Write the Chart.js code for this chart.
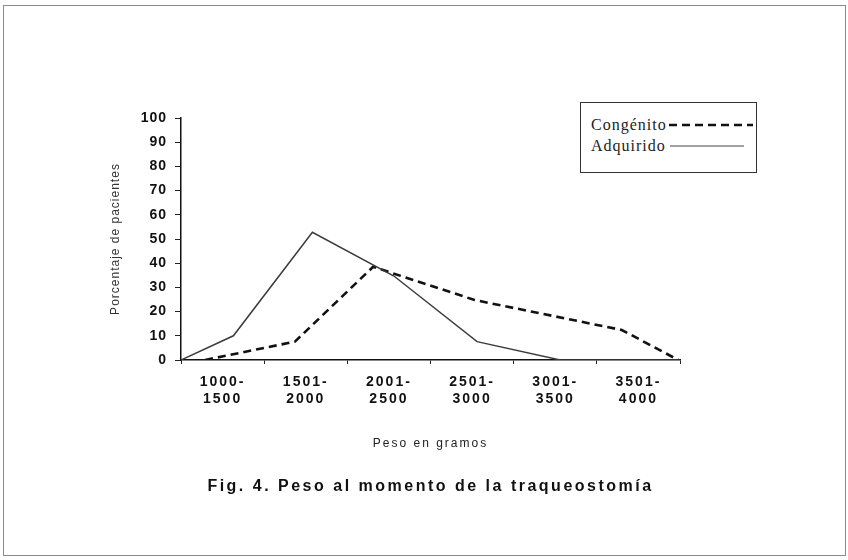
<!DOCTYPE html>
<html>
<head>
<meta charset="utf-8">
<script src="https://cdn.jsdelivr.net/npm/chart.js@4.4.1/dist/chart.umd.min.js"></script>
<style>
html,body{margin:0;padding:0;background:#fff;}
#wrap{position:relative;width:848px;height:560px;overflow:hidden;background:#fff;}
#frame{position:absolute;left:3px;top:5px;width:843px;height:551px;border:1px solid #8a8a8a;box-sizing:border-box;}
#c{position:absolute;left:0;top:0;}
#legend{position:absolute;left:580px;top:102px;width:177px;height:71px;border:1.5px solid #333;box-sizing:border-box;background:#fff;
  font-family:"Liberation Serif","Times New Roman",serif;font-size:16px;letter-spacing:1px;color:#222;}
.row{position:absolute;left:10px;white-space:nowrap;display:flex;align-items:center;height:20px;}
.row svg{margin-left:2px;}
</style>
</head>
<body>
<div id="wrap">
  <div id="frame"></div>
  <canvas id="c" width="848" height="560"></canvas>
  <div id="legend">
    <div class="row" id="r1" style="top:12px;"><span id="t1"></span><svg width="84" height="6"><line x1="0" y1="3" x2="84" y2="3" stroke="#111" stroke-width="2.4" stroke-dasharray="8,5"/></svg></div>
    <div class="row" id="r2" style="top:33px;"><span id="t2"></span><svg width="76" height="6"><line x1="2" y1="3" x2="76" y2="3" stroke="#444" stroke-width="1.2"/></svg></div>
  </div>
</div>
<script>
// ---- data ----
const categories = [['1000-','1500'],['1501-','2000'],['2001-','2500'],['2501-','3000'],['3001-','3500'],['3501-','4000']];
const seriesNames = ['Congénito','Adquirido'];
const adquiridoX = [0, 0.63, 1.58, 2.56, 3.56, 4.56, 6];
const adquiridoY = [0, 10, 52.8, 34.7, 7.6, 0, 0];
const congenitoX = [0.29, 1.37, 2.31, 3.53, 5.3, 5.98];
const congenitoY = [0, 7.6, 38.5, 24.8, 12.4, 0];
const yMin = 0, yMax = 100, yStep = 10;
const xTitle = 'Peso en gramos';
const yTitle = 'Porcentaje de pacientes';
const caption = 'Fig. 4. Peso al momento de la traqueostomía';

document.getElementById('t1').textContent = seriesNames[0];
document.getElementById('t2').textContent = seriesNames[1];

const toPts = (xs, ys) => xs.map((x, i) => ({x: x, y: ys[i]}));
const SANS = '"Liberation Sans", Arial, sans-serif';

const spacingPlugin = {
  id: 'spacing',
  beforeLayout(chart) {
    chart.boxes.forEach(b => {
      if (b._spWrapped) return;
      let sp = '0px';
      if (b.id === 'x') sp = '2px';
      else if (b.id === 'y') sp = '1px';
      else if (b === chart.titleBlock) sp = '2.5px';
      const orig = b.draw;
      b.draw = function(...args) {
        const ctx = chart.ctx;
        const prev = ctx.letterSpacing;
        ctx.letterSpacing = sp;
        orig.apply(this, args);
        ctx.letterSpacing = prev || '0px';
      };
      b._spWrapped = true;
    });
  }
};

new Chart(document.getElementById('c'), {
  type: 'line',
  data: {
    datasets: [
      {
        label: seriesNames[1],
        data: toPts(adquiridoX, adquiridoY),
        borderColor: '#3c3c3c',
        borderWidth: 1.5,
        pointRadius: 0,
        tension: 0,
        fill: false
      },
      {
        label: seriesNames[0],
        data: toPts(congenitoX, congenitoY),
        borderColor: '#111',
        borderWidth: 2.6,
        borderDash: [8, 5],
        pointRadius: 0,
        tension: 0,
        fill: false
      }
    ]
  },
  options: {
    responsive: false,
    animation: false,
    layout: {padding: {left: 100, right: 168, top: 118, bottom: 63.4}},
    plugins: {
      legend: {display: false},
      tooltip: {enabled: false},
      title: {
        display: true,
        position: 'bottom',
        fullSize: false,
        text: caption,
        color: '#111',
        font: {family: SANS, size: 16, weight: 'bold', lineHeight: 1.2},
        padding: {top: 7.4, bottom: 0}
      }
    },
    scales: {
      x: {
        type: 'linear',
        min: 0,
        max: categories.length,
        afterFit: s => { s.height = 110; },
        ticks: {
          stepSize: 1,
          autoSkip: false,
          maxRotation: 0,
          labelOffset: 41.6,
          padding: 10,
          color: '#111',
          font: {family: SANS, size: 14, weight: 'bold', lineHeight: 1.2},
          callback: v => (categories[v] !== undefined ? categories[v] : '')
        },
        grid: {display: true, drawOnChartArea: false, drawTicks: true, tickLength: 4, color: '#222', lineWidth: 1},
        border: {display: true, color: '#111', width: 1.5},
        title: {display: true, text: xTitle, color: '#222', font: {family: SANS, size: 12, lineHeight: 1.2}, padding: {top: 0, bottom: 18.8}}
      },
      y: {
        min: yMin,
        max: yMax,
        afterFit: s => { s.width = 81; },
        ticks: {
          stepSize: yStep,
          padding: 8,
          color: '#111',
          font: {family: SANS, size: 14, weight: 'bold', lineHeight: 1.2}
        },
        grid: {display: true, drawOnChartArea: false, drawTicks: true, tickLength: 6, color: '#222', lineWidth: 1},
        border: {display: true, color: '#111', width: 1.5},
        title: {display: true, text: yTitle, color: '#333', font: {family: SANS, size: 12, lineHeight: 1.2}, padding: {top: 8, bottom: 0}}
      }
    }
  },
  plugins: [spacingPlugin]
});
</script>
</body>
</html>
